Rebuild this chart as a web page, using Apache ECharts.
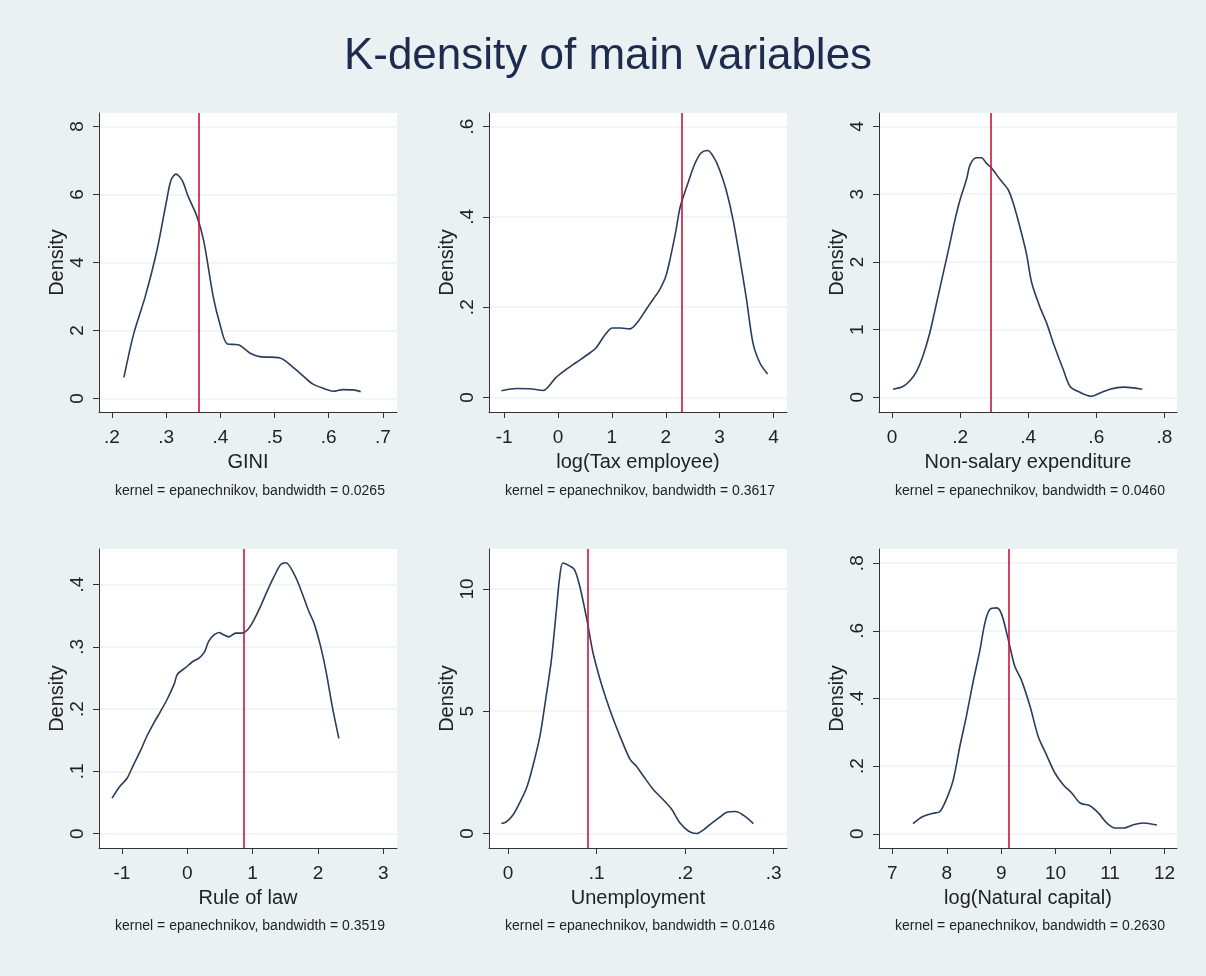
<!DOCTYPE html>
<html>
<head>
<meta charset="utf-8">
<title>K-density of main variables</title>
<script src="https://cdn.jsdelivr.net/npm/echarts@6/dist/echarts.min.js"></script>
<style>
  html, body { margin: 0; padding: 0; background: #eaf1f2; }
  #chart { width: 1206px; height: 976px; }
</style>
</head>
<body>
<div id="chart"></div>
<script>
// variable names and kernel notes
const varNames = ['GINI', 'log(Tax employee)', 'Non-salary expenditure',
                  'Rule of law', 'Unemployment', 'log(Natural capital)'];
const notes = [
  'kernel = epanechnikov, bandwidth = 0.0265',
  'kernel = epanechnikov, bandwidth = 0.3617',
  'kernel = epanechnikov, bandwidth = 0.0460',
  'kernel = epanechnikov, bandwidth = 0.3519',
  'kernel = epanechnikov, bandwidth = 0.0146',
  'kernel = epanechnikov, bandwidth = 0.2630'
];

// density curves
const giniX = [.222, .240, .261, .283, .301, .309, .318, .329, .341, .356, .369, .387, .399, .413,
               .433, .455, .473, .510, .531, .550, .571, .593, .608, .626, .645, .659];
const giniY = [.62, 1.9, 2.98, 4.36, 5.84, 6.43, 6.6, 6.43, 5.93, 5.39, 4.66, 2.98, 2.2, 1.6,
               1.58, 1.33, 1.23, 1.19, .96, .70, .42, .28, .21, .26, .25, .20];

const taxX = [-1.05, -.77, -.48, -.28, -.04, .14, .33, .57, .70, .88, 1.01, 1.16, 1.33, 1.47, 1.63,
              1.78, 1.87, 2.0, 2.09, 2.18, 2.27, 2.41, 2.53, 2.65, 2.78, 2.9, 3.0, 3.12, 3.25,
              3.37, 3.5, 3.62, 3.75, 3.89];
const taxY = [.015, .020, .019, .0155, .044, .061, .077, .097, .109, .140, .154, .154, .152, .166, .194,
              .22, .235, .268, .312, .364, .423, .474, .515, .541, .547, .53, .504, .46, .393,
              .312, .216, .12, .076, .052];

const nsalX = [.003, .032, .052, .072, .091, .111, .130, .150, .170, .184, .199, .219, .230, .248, .263,
               .277, .292, .317, .341, .356, .375, .395, .410, .434, .454, .474, .503, .523, .552,
               .586, .611, .640, .679, .709, .735];
const nsalY = [.12, .16, .24, .38, .61, .95, 1.37, 1.82, 2.27, 2.6, 2.9, 3.22, 3.44, 3.54, 3.54,
               3.46, 3.39, 3.22, 3.07, 2.87, 2.53, 2.12, 1.7, 1.34, 1.10, .80, .41, .16, .074,
               .015, .064, .12, .15, .14, .12];

const lawX = [-1.15, -1.03, -.92, -.82, -.72, -.62, -.51, -.41, -.31, -.20, -.15, -.03, .08, .18, .26,
              .33, .41, .49, .54, .64, .74, .84, .92, 1.02, 1.13, 1.23, 1.33, 1.43, 1.51, 1.64,
              1.73, 1.86, 1.94, 2.04, 2.12, 2.22, 2.32];
const lawY = [.057, .076, .089, .111, .132, .156, .178, .196, .215, .240, .256, .266, .276, .282, .291,
              .309, .319, .323, .320, .316, .322, .322, .327, .343, .367, .391, .413, .432, .435, .416,
              .394, .357, .338, .301, .263, .204, .153];

const unempX = [-.0075, -.002, .006, .013, .021, .028, .036, .043, .049, .055, .058, .062, .070, .075,
                .081, .089, .096, .104, .111, .119, .128, .138, .145, .153, .164, .175, .185, .194,
                .204, .213, .221, .228, .238, .247, .257, .266, .277];
const unempY = [.41, .48, .78, 1.25, 1.87, 2.75, 3.98, 5.61, 7.11, 9.29, 10.38, 11.06, 10.93, 10.79,
                10.11, 8.75, 7.38, 6.29, 5.48, 4.66, 3.84, 3.02, 2.75, 2.34, 1.80, 1.39, .98, .44,
                .095, 0, .16, .37, .64, .87, .90, .74, .41];

const natX = [7.38, 7.56, 7.75, 7.87, 7.99, 8.12, 8.24, 8.36, 8.48, 8.61, 8.70, 8.79, 8.92, 9.01, 9.13,
              9.25, 9.37, 9.53, 9.68, 9.83, 9.99, 10.14, 10.30, 10.45, 10.63, 10.79, 10.94, 11.09,
              11.25, 11.43, 11.61, 11.86];
const natY = [.030, .051, .061, .065, .101, .160, .258, .347, .446, .544, .623, .663, .668, .648, .574,
              .495, .455, .377, .288, .234, .179, .145, .120, .091, .083, .061, .032, .017,
              .017, .027, .032, .026];

const curvesX = [giniX, taxX, nsalX, lawX, unempX, natX];
const curvesY = [giniY, taxY, nsalY, lawY, unempY, natY];

// red reference lines (mean)
const refLines = [0.36, 2.29, 0.287, 0.865, 0.09, 9.13];

// tick values
const xTicks = [
  [.2, .3, .4, .5, .6, .7],
  [-1, 0, 1, 2, 3, 4],
  [0, .2, .4, .6, .8],
  [-1, 0, 1, 2, 3],
  [0, .1, .2, .3],
  [7, 8, 9, 10, 11, 12]
];
const yTicks = [
  [0, 2, 4, 6, 8],
  [0, .2, .4, .6],
  [0, 1, 2, 3, 4],
  [0, .1, .2, .3, .4],
  [0, 5, 10],
  [0, .2, .4, .6, .8]
];
// axis extents
const xMin = [.176, -1.28, -.038, -1.35, -.0215, 6.755];
const xMax = [.726, 4.25, .837, 3.21, .315, 12.23];
const yMin = [-.4, -.032, -.217, -.023, -.59, -.042];
const yMax = [8.4, .63, 4.2, .457, 11.63, .842];

const FONT = '"Liberation Sans", Arial, Helvetica, sans-serif';
const colLeft = [99, 489, 879];
const rowTop = [113, 549];
const W = 298, H = 299;

function fmt(v) {
  return String(v).replace(/^0\./, '.').replace(/^-0\./, '-.');
}

var chart = echarts.init(document.getElementById('chart'));

var grids = [], xAxes = [], yAxes = [], series = [], graphics = [];

graphics.push({
  type: 'text', x: 608, y: 57,
  style: { text: 'K-density of main variables', font: '44px ' + FONT, fill: '#1e2b4e',
           align: 'center', verticalAlign: 'middle' }
});

for (var i = 0; i < 6; i++) {
  var col = i % 3, row = Math.floor(i / 3);
  grids.push({
    left: colLeft[col], top: rowTop[row], width: W, height: H,
    show: true, backgroundColor: '#ffffff', borderWidth: 0
  });
  xAxes.push({
    type: 'value', gridIndex: i, min: xMin[i], max: xMax[i],
    name: varNames[i], nameLocation: 'middle', nameGap: 40,
    nameTextStyle: { fontFamily: FONT, fontSize: 20, color: '#222' },
    axisLine: { show: true, onZero: false, lineStyle: { color: '#333', width: 1 } },
    axisTick: { show: true, length: 6, customValues: xTicks[i], lineStyle: { color: '#333' } },
    axisLabel: { customValues: xTicks[i], formatter: fmt, margin: 16,
                 fontFamily: FONT, fontSize: 19, color: '#222' },
    splitLine: { show: false }
  });
  yAxes.push({
    type: 'value', gridIndex: i, min: yMin[i], max: yMax[i],
    name: 'Density', nameLocation: 'middle', nameGap: 27, nameRotate: 90,
    nameTextStyle: { fontFamily: FONT, fontSize: 20, color: '#222' },
    axisLine: { show: true, onZero: false, lineStyle: { color: '#333', width: 1 } },
    axisTick: { show: true, length: 6, customValues: yTicks[i], lineStyle: { color: '#333' } },
    axisLabel: { customValues: yTicks[i], formatter: fmt, rotate: 90, margin: 12,
                 fontFamily: FONT, fontSize: 19, color: '#222' },
    splitLine: { show: true, lineStyle: { color: '#edf2f3', width: 1.5 } }
  });
  var pts = curvesX[i].map(function (x, k) { return [x, curvesY[i][k]]; });
  series.push({
    type: 'line', xAxisIndex: i, yAxisIndex: i, data: pts,
    smooth: 0.3, symbol: 'none', silent: true,
    lineStyle: { color: '#2a3d5c', width: 1.6 },
    markLine: {
      symbol: 'none', silent: true, label: { show: false },
      lineStyle: { color: '#c8163c', width: 1.6, type: 'solid' },
      data: [{ xAxis: refLines[i] }]
    }
  });
  graphics.push({
    type: 'text', x: colLeft[col] + W / 2 + 2, y: row === 0 ? 491 : 926,
    style: { text: notes[i], font: '14px ' + FONT, fill: '#222',
             align: 'center', verticalAlign: 'middle' }
  });
}

var option = {
  backgroundColor: '#eaf1f2',
  animation: false,
  grid: grids,
  xAxis: xAxes,
  yAxis: yAxes,
  series: series,
  graphic: graphics
};
chart.setOption(option);
</script>
</body>
</html>
